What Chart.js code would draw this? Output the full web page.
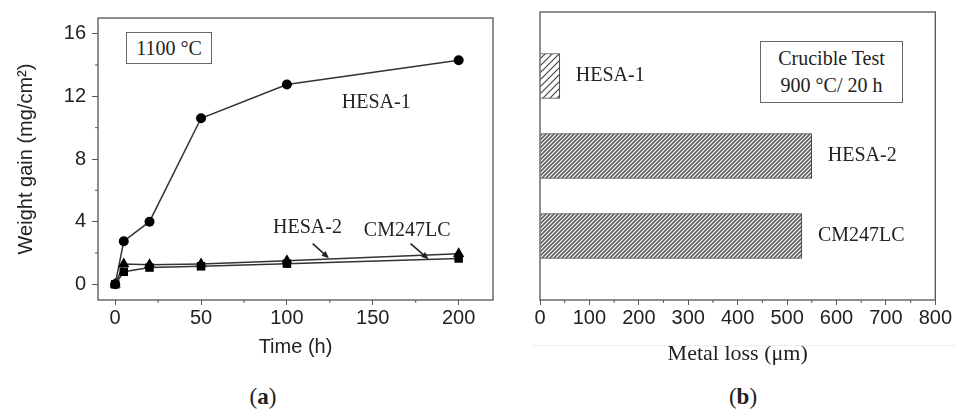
<!DOCTYPE html>
<html>
<head>
<meta charset="utf-8">
<script src="https://cdn.jsdelivr.net/npm/chart.js@4.4.0/dist/chart.umd.min.js"></script>
<style>
body{margin:0;background:#fff;width:955px;height:412px;overflow:hidden;position:relative;font-family:"Liberation Serif",serif;color:#222}
.pane{position:absolute;top:0;height:370px}
#paneA{left:0;width:500px}
#paneB{left:480px;width:475px}
.box{position:absolute;border:1px solid #666;background:#fff;text-align:center;color:#222;box-sizing:border-box}
.tag{position:absolute;top:383px;font-size:23px;width:60px;text-align:center;line-height:28px}
.tag b{font-weight:bold}
#fade{position:absolute;left:532px;top:345px;width:423px;height:1px;background:#eeeeee}
</style>
</head>
<body>
<div class="pane" id="paneA"><canvas id="gainChart"></canvas></div>
<div class="pane" id="paneB"><canvas id="lossChart"></canvas></div>
<div class="box" style="left:126px;top:32px;width:86px;height:32px;font-size:20px;line-height:30px">1100 °C</div>
<div class="box" style="left:760px;top:41px;width:143px;height:62px;font-size:20px;line-height:27px;padding-top:3px">Crucible Test<br>900 °C/ 20 h</div>
<div id="fade"></div>
<div class="tag" style="left:233px">(<b>a</b>)</div>
<div class="tag" style="left:713px">(<b>b</b>)</div>
<script>
// (a) oxidation at 1100 C
var timeH = [0, 5, 20, 50, 100, 200];
var hesa1Gain = [0, 2.75, 4.0, 10.6, 12.75, 14.3];
var hesa2Gain = [0, 1.3, 1.25, 1.3, 1.5, 1.95];
var cm247Gain = [0, 0.8, 1.07, 1.15, 1.32, 1.65];
var timeTicks = [0, 50, 100, 150, 200];
var timeMinor = [25, 75, 125, 175];
var gainTicks = [0, 4, 8, 12, 16];
var gainMinor = [2, 6, 10, 14];

// (b) crucible test
var alloyNames = ["HESA-1", "HESA-2", "CM247LC"];
var metalLoss = [40, 550, 530];
var lossTicks = [0, 100, 200, 300, 400, 500, 600, 700, 800];
var lossMinor = [50, 150, 250, 350, 450, 550, 650, 750];

var sans = "'Liberation Sans', Arial, sans-serif";
var serif = "'Liberation Serif', 'Times New Roman', serif";

// box round the plot area plus the short minor ticks
var framePlugin = {
	id: 'frame',
	afterDraw: function (chart, args, opts) {
		var ctx = chart.ctx, a = chart.chartArea;
		ctx.save();
		ctx.strokeStyle = '#555';
		ctx.lineWidth = 1.3;
		ctx.strokeRect(a.left, a.top, a.right - a.left, a.bottom - a.top);
		ctx.lineWidth = 1;
		(opts.xMinor || []).forEach(function (v) {
			var px = chart.scales.x.getPixelForValue(v);
			ctx.beginPath(); ctx.moveTo(px, a.bottom); ctx.lineTo(px, a.bottom + 3); ctx.stroke();
		});
		(opts.yMinor || []).forEach(function (v) {
			var py = chart.scales.y.getPixelForValue(v);
			ctx.beginPath(); ctx.moveTo(a.left, py); ctx.lineTo(a.left - 3, py); ctx.stroke();
		});
		ctx.restore();
	}
};

// curve names and arrows for panel (a), in data units
var curveLabels = [
	{ text: "HESA-1", x: 152, y: 11.6 },
	{ text: "HESA-2", x: 112, y: 3.6 },
	{ text: "CM247LC", x: 170, y: 3.45 }
];
var arrows = [
	{ x0: 115, y0: 2.6, x1: 124.5, y1: 1.66 },
	{ x0: 172, y0: 2.6, x1: 182.5, y1: 1.6 }
];

var notesPlugin = {
	id: 'notes',
	afterDatasetsDraw: function (chart) {
		var ctx = chart.ctx, x = chart.scales.x, y = chart.scales.y;
		ctx.save();
		ctx.font = "20px " + serif;
		ctx.fillStyle = '#222';
		ctx.textAlign = 'center';
		ctx.textBaseline = 'middle';
		curveLabels.forEach(function (l) {
			ctx.fillText(l.text, x.getPixelForValue(l.x), y.getPixelForValue(l.y));
		});
		ctx.strokeStyle = '#222';
		ctx.lineWidth = 1.5;
		arrows.forEach(function (r) {
			var ax = x.getPixelForValue(r.x0), ay = y.getPixelForValue(r.y0);
			var bx = x.getPixelForValue(r.x1), by = y.getPixelForValue(r.y1);
			var ang = Math.atan2(by - ay, bx - ax);
			ctx.beginPath(); ctx.moveTo(ax, ay); ctx.lineTo(bx - 4 * Math.cos(ang), by - 4 * Math.sin(ang)); ctx.stroke();
			ctx.beginPath();
			ctx.moveTo(bx, by);
			ctx.lineTo(bx - 8 * Math.cos(ang - 0.4), by - 8 * Math.sin(ang - 0.4));
			ctx.lineTo(bx - 8 * Math.cos(ang + 0.4), by - 8 * Math.sin(ang + 0.4));
			ctx.closePath();
			ctx.fill();
		});
		ctx.restore();
	}
};

function series (vals) {
	return timeH.map(function (t, i) { return { x: t, y: vals[i] }; });
}

function loadGainChart () {
	var ctx = document.getElementById("gainChart");
	new Chart(ctx, {
		type: 'line',
		data: {
			datasets: [
				{ label: "CM247LC", data: series(cm247Gain), pointStyle: 'rect', pointRadius: 6 },
				{ label: "HESA-2", data: series(hesa2Gain), pointStyle: 'triangle', pointRadius: 6.5 },
				{ label: "HESA-1", data: series(hesa1Gain), pointStyle: 'circle', pointRadius: 5 }
			].map(function (d) {
				d.borderColor = '#333';
				d.borderWidth = 1.5;
				d.pointBackgroundColor = '#000';
				d.pointBorderColor = '#000';
				d.pointBorderWidth = 0;
				d.tension = 0;
				return d;
			})
		},
		options: {
			responsive: true,
			maintainAspectRatio: false,
			animation: false,
			layout: { padding: { top: 10, right: 7, left: 0, bottom: 0 } },
			plugins: {
				legend: { display: false },
				tooltip: { enabled: false },
				frame: { xMinor: timeMinor, yMinor: gainMinor }
			},
			scales: {
				x: {
					type: 'linear',
					min: -10,
					max: 220,
					afterBuildTicks: function (s) { s.ticks = timeTicks.map(function (v) { return { value: v }; }); },
					afterFit: function (s) { s.height = 70; },
					grid: { drawOnChartArea: false, tickLength: 5, color: '#555', lineWidth: 1 },
					border: { display: false },
					ticks: { color: '#222', font: { family: sans, size: 20, lineHeight: 1 }, padding: 3, maxRotation: 0 },
					title: { display: true, text: 'Time (h)', color: '#222', font: { family: sans, size: 20 }, padding: { top: 0, bottom: 11 } }
				},
				y: {
					min: -1,
					max: 17,
					afterBuildTicks: function (s) { s.ticks = gainTicks.map(function (v) { return { value: v }; }); },
					afterFit: function (s) { s.width = 98; },
					grid: { drawOnChartArea: false, tickLength: 6, color: '#555', lineWidth: 1 },
					border: { display: false },
					ticks: { color: '#222', font: { family: sans, size: 20 }, padding: 6 },
					title: { display: true, text: 'Weight gain (mg/cm²)', color: '#222', font: { family: sans, size: 20 }, padding: { top: 14, bottom: 0 } }
				}
			}
		},
		plugins: [framePlugin, notesPlugin]
	});
}

function hatch (step, width, colour) {
	var c = document.createElement('canvas');
	c.width = step; c.height = step;
	var g = c.getContext('2d');
	g.fillStyle = '#fff';
	g.fillRect(0, 0, step, step);
	g.strokeStyle = colour;
	g.lineWidth = width;
	g.beginPath();
	g.moveTo(-1, step + 1); g.lineTo(step + 1, -1);
	g.moveTo(-1, 1); g.lineTo(1, -1);
	g.moveTo(step - 1, step + 1); g.lineTo(step + 1, step - 1);
	g.stroke();
	return g.createPattern(c, 'repeat');
}

var barLabelPlugin = {
	id: 'barLabels',
	afterDatasetsDraw: function (chart) {
		var ctx = chart.ctx;
		ctx.save();
		ctx.font = "20px " + serif;
		ctx.fillStyle = '#222';
		ctx.textBaseline = 'middle';
		chart.getDatasetMeta(0).data.forEach(function (bar, i) {
			ctx.fillText(alloyNames[i], bar.x + 16, bar.y);
		});
		ctx.restore();
	}
};

function loadLossChart () {
	var ctx = document.getElementById("lossChart");
	var dense = hatch(4, 1.8, '#666');
	new Chart(ctx, {
		type: 'bar',
		data: {
			datasets: [{
				data: metalLoss.map(function (v, i) { return { x: v, y: i + 1 }; }),
				backgroundColor: [hatch(7, 1.2, '#444'), dense, dense],
				borderColor: '#444',
				borderWidth: 1,
				barThickness: 45
			}]
		},
		options: {
			indexAxis: 'y',
			responsive: true,
			maintainAspectRatio: false,
			animation: false,
			layout: { padding: { top: 12, right: 19, left: 0, bottom: 0 } },
			plugins: {
				legend: { display: false },
				tooltip: { enabled: false },
				frame: { xMinor: lossMinor }
			},
			scales: {
				x: {
					type: 'linear',
					min: 0,
					max: 800,
					afterBuildTicks: function (s) { s.ticks = lossTicks.map(function (v) { return { value: v }; }); },
					afterFit: function (s) { s.height = 70; },
					grid: { drawOnChartArea: false, tickLength: 5, color: '#555', lineWidth: 1 },
					border: { display: false },
					ticks: { color: '#222', font: { family: sans, size: 20, lineHeight: 1 }, padding: 3, maxRotation: 0 },
					title: { display: true, text: 'Metal loss (μm)', color: '#222', font: { family: serif, size: 22 }, padding: { top: 0, bottom: 3 } }
				},
				y: {
					type: 'linear',
					min: 0.2,
					max: 3.8,
					reverse: true,
					offset: false,
					afterFit: function (s) { s.width = 60; },
					grid: { display: false, offset: false },
					border: { display: false },
					ticks: { display: false }
				}
			}
		},
		plugins: [framePlugin, barLabelPlugin]
	});
}

window.addEventListener("load", function () { loadGainChart(); loadLossChart(); });
</script>
</body>
</html>
